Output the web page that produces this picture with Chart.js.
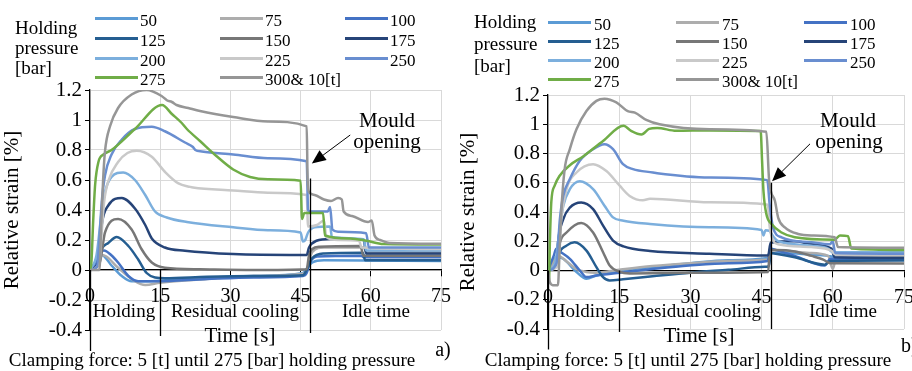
<!DOCTYPE html>
<html>
<head>
<meta charset="utf-8">
<script src="https://cdn.jsdelivr.net/npm/chart.js@4.4.0/dist/chart.umd.min.js"></script>
<style>
  html, body { margin: 0; padding: 0; background: #fff; }
  #page { position: relative; width: 912px; height: 371px; overflow: hidden; background: #fff;
    font-family: "Liberation Serif", "Times New Roman", serif; color: #000; }
  canvas { position: absolute; top: 0; }
  .t { position: absolute; white-space: nowrap; line-height: 1; }
  .c { transform: translate(-50%, -50%); }
  .l { transform: translate(0, -50%); }
  .sw { position: absolute; height: 3px; }
</style>
</head>
<body>
<div id="page">
  <canvas id="chartA" width="456" height="371" style="left:0"></canvas>
  <canvas id="chartB" width="456" height="371" style="left:456px"></canvas>
  <div id="legendA"></div>
  <div id="legendB"></div>

  <!-- legend titles -->
  <div class="t l" style="left:15px;top:27px;font-size:19px">Holding</div>
  <div class="t l" style="left:15px;top:46.5px;font-size:19px">pressure</div>
  <div class="t l" style="left:15px;top:66.5px;font-size:19px">[bar]</div>
  <div class="t l" style="left:474px;top:21px;font-size:19px">Holding</div>
  <div class="t l" style="left:474px;top:43px;font-size:19px">pressure</div>
  <div class="t l" style="left:474px;top:64.5px;font-size:19px">[bar]</div>

  <!-- panel a notes -->
  <div class="t c" style="left:387px;top:120px;font-size:21px">Mould</div>
  <div class="t c" style="left:387px;top:141px;font-size:21px">opening</div>
  <div class="t c" style="left:124px;top:310px;font-size:19px">Holding</div>
  <div class="t c" style="left:235px;top:310px;font-size:19px">Residual cooling</div>
  <div class="t c" style="left:376px;top:310px;font-size:19px">Idle time</div>
  <div class="t c" style="left:240px;top:335px;font-size:21px">Time [s]</div>
  <div class="t c" style="left:443px;top:349px;font-size:20px">a)</div>
  <div class="t c" style="left:212px;top:359px;font-size:19px">Clamping force: 5 [t] until 275 [bar] holding pressure</div>

  <!-- panel b notes -->
  <div class="t c" style="left:848px;top:120px;font-size:21px">Mould</div>
  <div class="t c" style="left:849px;top:141px;font-size:21px">opening</div>
  <div class="t c" style="left:583px;top:310px;font-size:19px">Holding</div>
  <div class="t c" style="left:697px;top:310px;font-size:19px">Residual cooling</div>
  <div class="t c" style="left:843px;top:310px;font-size:19px">Idle time</div>
  <div class="t c" style="left:699px;top:335px;font-size:21px">Time [s]</div>
  <div class="t l" style="left:901px;top:345px;font-size:20px">b)</div>
  <div class="t c" style="left:688px;top:359px;font-size:19px">Clamping force: 5 [t] until 275 [bar] holding pressure</div>
</div>

<script>
// holding pressure series (legend order)
const pressureLabels = ["50", "75", "100", "125", "150", "175", "200", "225", "250", "275", "300& 10[t]"];
const timeTicks = [0, 15, 30, 45, 60, 75];
const strainTicks = [-0.4, -0.2, 0, 0.2, 0.4, 0.6, 0.8, 1, 1.2];
const strainTickLabels = ["-0.4", "-0.2", "0", "0.2", "0.4", "0.6", "0.8", "1", "1.2"];

// panel a) - [time s, relative strain %]
const a50 = [[0,0],[1.2,0.05],[2.5,0.1],[4.6,0.03],[6.8,-0.04],[8.9,-0.075],[12,-0.075],[20,-0.06],[35,-0.04],[45.5,-0.02],[46.3,0.01],[47.5,0.05],[50,0.065],[75,0.06]];
const a75 = [[0,0],[1.5,0.04],[2.5,0.1],[3.5,0.09],[6,0.015],[9.6,-0.075],[11.8,-0.1],[15,-0.085],[25,-0.06],[35,-0.04],[45.5,-0.025],[46.3,0],[47.5,0.12],[50,0.15],[58.5,0.15],[59,0.12],[75,0.12]];
const a100 = [[0,0],[1.5,0.05],[2.2,0.12],[3,0.13],[4.5,0.1],[6,0.05],[8.2,-0.04],[10.3,-0.075],[14,-0.075],[25,-0.06],[35,-0.05],[45.5,-0.04],[46.3,-0.02],[47,0.05],[48.5,0.09],[58,0.095],[58.5,0.085],[75,0.085]];
const a125 = [[0,0],[1.5,0.03],[2.5,0.14],[3.9,0.18],[5.7,0.22],[8.2,0.16],[10.3,0.07],[12.1,-0.02],[13.9,-0.05],[16,-0.055],[25,-0.045],[35,-0.04],[45.5,-0.035],[46.3,0],[47.5,0.08],[50,0.11],[58.3,0.115],[58.8,0.065],[75,0.065]];
const a150 = [[0,0],[2.1,0.05],[3.2,0.25],[6,0.34],[8.9,0.27],[11,0.14],[13.2,0.05],[16,0.015],[23.5,0.005],[35,0],[46.3,0.005],[46.8,0.1],[47.5,0.14],[49,0.155],[57.8,0.16],[58.4,0.095],[75,0.095]];
const a175 = [[0,0],[1.8,0.05],[2.5,0.3],[3.9,0.43],[6.8,0.48],[9.6,0.41],[11.8,0.3],[13.2,0.21],[16,0.15],[20.3,0.128],[30.6,0.106],[45,0.1],[46.3,0.1],[46.8,0.15],[48.4,0.195],[51.3,0.207],[58.5,0.2],[59,0.11],[75,0.11]];
const a200 = [[0,0],[1.4,0.1],[2.5,0.39],[3.2,0.52],[4.6,0.62],[7.1,0.65],[9.6,0.6],[11.8,0.5],[13.9,0.39],[16.4,0.35],[20.7,0.32],[30.6,0.285],[38,0.265],[45,0.25],[45.5,0.19],[46,0.2],[46.6,0.25],[48,0.285],[51.3,0.29],[51.7,0.22],[58.5,0.205],[59,0.13],[75,0.13]];
const a225 = [[0,0],[2,0.05],[2.5,0.25],[3,0.45],[4,0.6],[6,0.72],[8,0.78],[10,0.795],[13.2,0.755],[16,0.655],[18.9,0.577],[21.4,0.554],[22,0.55],[30.6,0.53],[38,0.515],[46.3,0.5],[46.6,0.29],[48.5,0.3],[50,0.33],[50.5,0.22],[53,0.2],[57.5,0.195],[58,0.15],[75,0.14]];
const a250 = [[0,0],[1.5,0.02],[2,0.2],[2.5,0.45],[3.2,0.63],[4.6,0.77],[6.8,0.87],[9.6,0.94],[13.2,0.955],[16,0.925],[20.3,0.85],[22,0.82],[22.5,0.8],[23.9,0.79],[30.6,0.77],[38,0.745],[46.3,0.725],[46.6,0.4],[47,0.39],[50.8,0.39],[51.3,0.42],[51.8,0.27],[53,0.255],[59,0.245],[59.6,0.15],[75,0.15]];
const a275 = [[0,0],[0.3,0.05],[0.7,0.34],[1.1,0.57],[1.8,0.72],[2.9,0.77],[4.6,0.8],[9.6,0.94],[15.4,1.1],[17.5,1.04],[19.6,0.98],[20.7,0.94],[23.5,0.86],[27,0.76],[30.6,0.67],[34.2,0.62],[38,0.605],[45,0.595],[45.3,0.34],[45.8,0.38],[49.8,0.38],[50.2,0.23],[55.6,0.21],[59.1,0.195],[62.7,0.173],[75,0.17]];
const a300 = [[0,0],[2,0],[2.4,0.3],[2.8,0.6],[3.2,0.79],[4.3,0.96],[6,1.08],[8.9,1.17],[12.1,1.2],[15.3,1.16],[16.5,1.13],[17.5,1.12],[18.5,1.1],[21,1.08],[23.5,1.06],[30.6,1.02],[38,0.99],[46.3,0.958],[46.5,0.6],[46.8,0.52],[48,0.5],[50,0.47],[51.5,0.46],[53,0.48],[53.8,0.47],[54.2,0.39],[56,0.36],[59.4,0.32],[60.2,0.33],[60.8,0.23],[62,0.2],[64,0.18],[75,0.175]];

// panel b)
const b50 = [[0,0],[1,0.05],[1.75,0.09],[3.2,0.08],[6,-0.01],[8.1,-0.057],[10.2,-0.034],[14.4,-0.005],[22.7,0.025],[30,0.05],[38,0.07],[46.3,0.085],[46.8,0.12],[50,0.12],[55,0.11],[59,0.1],[60,0.095],[75,0.095]];
const b75 = [[0,0],[1.2,0.06],[2.2,0.1],[4,0.06],[6,0.01],[8.1,-0.01],[10,-0.015],[15,0.005],[22,0.03],[30,0.05],[38,0.065],[46.3,0.075],[46.8,0.14],[50,0.135],[55,0.12],[59,0.1],[60,0.01],[60.8,0.1],[75,0.1]];
const b100 = [[0,0],[1.2,0.1],[1.75,0.148],[2.5,0.13],[4.6,0.08],[6.7,0],[8.1,-0.045],[10.2,-0.034],[15,-0.015],[22,0.01],[29.7,0.034],[38,0.05],[46.3,0.065],[46.8,0.15],[48,0.14],[52,0.1],[58.3,0.034],[59.5,0.08],[75,0.08]];
const b125 = [[0,0],[1.8,0.05],[2.1,0.1],[3.9,0.17],[5.6,0.193],[8.1,0.136],[10.2,0.023],[11.6,-0.045],[13,-0.068],[15.8,-0.06],[22,-0.04],[30,-0.015],[38,0.005],[45.7,0.025],[46.5,0.03],[47,0.12],[48,0.115],[52,0.09],[58.3,0.04],[59.5,0.065],[75,0.068]];
const b150 = [[0,0],[1.8,0.05],[2.5,0.19],[3.9,0.26],[7,0.325],[9.5,0.26],[11.6,0.125],[13,0.034],[15.1,-0.01],[17.2,-0.02],[30,-0.015],[46.4,-0.01],[46.7,0.14],[48,0.14],[52,0.13],[55.5,0.1],[58,0.075],[59.5,0.05],[75,0.048]];
const b175 = [[0,0],[1.8,0.05],[2.1,0.19],[3.2,0.35],[4.6,0.43],[7,0.465],[9.5,0.42],[11.6,0.307],[13.7,0.205],[15.9,0.165],[21.5,0.133],[34,0.114],[45.7,0.102],[46.4,0.105],[46.9,0.19],[52,0.2],[55.5,0.18],[59.7,0.15],[60.4,0.09],[75,0.085]];
const b200 = [[0,0],[1.5,0.05],[2.5,0.3],[3.2,0.44],[4.6,0.556],[6.7,0.61],[9.5,0.556],[11.9,0.443],[13.7,0.363],[15.9,0.34],[21.5,0.318],[34,0.295],[45,0.277],[45.4,0.24],[45.8,0.275],[46.6,0.272],[47.5,0.23],[48.5,0.2],[55.5,0.17],[59,0.15],[60,0.125],[75,0.125]];
const b225 = [[0,0],[2,0.03],[2.8,0.35],[3.9,0.556],[6,0.67],[9.5,0.727],[12.3,0.68],[15.1,0.58],[17.2,0.51],[20,0.48],[21.5,0.49],[34,0.466],[46.3,0.45],[46.7,0.3],[47.5,0.2],[48.5,0.18],[55.5,0.16],[59.7,0.136],[60.5,0.11],[75,0.11]];
const b250 = [[0,0],[1.8,0.05],[2.5,0.35],[3.2,0.51],[4.6,0.625],[6.7,0.75],[9.5,0.83],[11.9,0.864],[13.7,0.83],[15.8,0.727],[17.9,0.693],[22.1,0.67],[23,0.665],[34,0.636],[46.2,0.618],[46.7,0.45],[47.4,0.295],[49.2,0.227],[55.5,0.193],[59.4,0.18],[60,0.2],[60.5,0.12],[75,0.115]];
const b275 = [[0,0],[0.2,-0.08],[0.4,0.2],[0.7,0.47],[1.4,0.58],[2.5,0.65],[4.6,0.72],[7.4,0.78],[11.6,0.886],[15.9,0.99],[17.5,0.955],[19.7,0.93],[21.3,0.968],[23,0.975],[27,0.955],[34,0.958],[44.8,0.954],[45.1,0.75],[45.4,0.54],[46,0.386],[47.1,0.318],[49.2,0.26],[52,0.227],[60.4,0.21],[61.5,0.24],[63.2,0.235],[63.9,0.15],[75,0.14]];
const b300 = [[0,0],[0.4,-0.08],[1,-0.1],[2.1,-0.1],[2.4,0.1],[2.8,0.4],[3.5,0.69],[4.6,0.83],[6,0.966],[8.1,1.09],[10.2,1.16],[11.9,1.175],[14.4,1.15],[16.8,1.09],[18.3,1.08],[20.7,1.03],[23.5,1],[34,0.966],[46,0.948],[46.6,0.61],[47.8,0.477],[48.5,0.36],[49.9,0.295],[52.7,0.25],[55.5,0.24],[60.4,0.227],[61.1,0.16],[75,0.155]];

const seriesA = [a50, a75, a100, a125, a150, a175, a200, a225, a250, a275, a300];
const seriesB = [b50, b75, b100, b125, b150, b175, b200, b225, b250, b275, b300];

const colours = ["#5b9bd5", "#adadad", "#4472c4", "#255e91", "#777777", "#264478",
                 "#7cafdd", "#c9c9c9", "#698ed0", "#70ad47", "#969696"];

const serif = "'Liberation Serif', 'Times New Roman', serif";
Chart.defaults.font.family = serif;
Chart.defaults.color = "#000";

// black phase lines, mould-opening arrow
const phasePlugin = {
  id: "phases",
  afterDatasetsDraw(chart, args, o) {
    const { ctx } = chart;
    const x = chart.scales.x, y = chart.scales.y;
    ctx.save();
    ctx.strokeStyle = "#000";
    ctx.fillStyle = "#000";
    ctx.lineWidth = 1.3;
    o.dividers.forEach(d => {
      const px = Math.round(x.getPixelForValue(d.t)) + 0.5;
      ctx.beginPath();
      ctx.moveTo(px, y.getPixelForValue(d.top));
      ctx.lineTo(px, y.getPixelForValue(d.bottom));
      ctx.stroke();
    });
    const x1 = x.getPixelForValue(o.arrow.from[0]), y1 = y.getPixelForValue(o.arrow.from[1]);
    const x2 = x.getPixelForValue(o.arrow.to[0]), y2 = y.getPixelForValue(o.arrow.to[1]);
    const ang = Math.atan2(y2 - y1, x2 - x1);
    const head = 14, w = 6;
    const bx = x2 - head * Math.cos(ang), by = y2 - head * Math.sin(ang);
    ctx.lineWidth = 1;
    ctx.beginPath();
    ctx.moveTo(x1, y1);
    ctx.lineTo(bx, by);
    ctx.stroke();
    ctx.beginPath();
    ctx.moveTo(x2, y2);
    ctx.lineTo(bx + w * Math.sin(ang), by - w * Math.cos(ang));
    ctx.lineTo(bx - w * Math.sin(ang), by + w * Math.cos(ang));
    ctx.closePath();
    ctx.fill();
    ctx.restore();
  }
};

function makeChart(id, series, opt) {
  const datasets = series.map((s, i) => ({
    label: pressureLabels[i],
    data: s.map(p => ({ x: p[0], y: p[1] })),
    borderColor: colours[i],
    backgroundColor: colours[i],
    borderWidth: 2.5,
    pointRadius: 0,
    fill: false,
    cubicInterpolationMode: "monotone"
  })).reverse(); // last series on top, like the original

  return new Chart(document.getElementById(id), {
    type: "line",
    data: { datasets },
    plugins: [phasePlugin],
    options: {
      responsive: false,
      animation: false,
      layout: { padding: { top: opt.top, bottom: opt.bottom, right: opt.right, left: 0 } },
      plugins: {
        legend: { display: false },
        tooltip: { enabled: false },
        phases: { dividers: opt.dividers, arrow: opt.arrow }
      },
      scales: {
        x: {
          type: "linear",
          min: 0,
          max: 75,
          position: { y: 0 },
          afterBuildTicks: s => { s.ticks = timeTicks.map(v => ({ value: v })); },
          afterFit: s => { s.height = 0; s.paddingLeft = 0; s.paddingRight = 0; },
          grid: { color: "#d9d9d9", tickColor: "#000", tickLength: 6, lineWidth: 1 },
          border: { color: "#000", width: 1.3 },
          ticks: { color: "#000", font: { family: serif, size: 20 }, padding: 9, maxRotation: 0, autoSkip: false }
        },
        y: {
          min: -0.4,
          max: 1.2,
          afterBuildTicks: s => { s.ticks = strainTicks.map(v => ({ value: v })); },
          afterFit: s => { s.width = opt.yWidth; },
          grid: { color: "#d9d9d9", tickColor: "#000", tickLength: 5, lineWidth: 1 },
          border: { color: "#000", width: 1.3 },
          ticks: {
            color: "#000", font: { family: serif, size: 21 }, padding: 3,
            callback: v => strainTickLabels[strainTicks.indexOf(v)]
          },
          title: { display: true, text: "Relative strain [%]", color: "#000", font: { family: serif, size: 21 }, padding: 0 }
        }
      }
    }
  });
}

function buildLegend(id, x0, y0, dx, dy, gap) {
  const box = document.getElementById(id);
  pressureLabels.forEach((lab, i) => {
    const col = i % 3, row = Math.floor(i / 3);
    const sw = document.createElement("div");
    sw.className = "sw";
    sw.style.left = (x0 + col * dx) + "px";
    sw.style.top = (y0 + row * dy - 1.5) + "px";
    sw.style.width = "43px";
    sw.style.background = colours[i];
    const t = document.createElement("div");
    t.className = "t l";
    t.style.fontSize = "17px";
    t.style.left = (x0 + col * dx + gap) + "px";
    t.style.top = (y0 + row * dy + 1.5) + "px";
    t.textContent = lab;
    box.append(sw, t);
  });
}

function drawAll() {
  makeChart("chartA", seriesA, {
    top: 90, bottom: 41, right: 15, yWidth: 90,
    dividers: [{ t: 0, top: 0, bottom: -0.54 }, { t: 15, top: 0, bottom: -0.44 }, { t: 47.1, top: 0.61, bottom: -0.42 }],
    arrow: { from: [55.6, 0.9], to: [47.4, 0.71] }
  });
  makeChart("chartB", seriesB, {
    top: 95, bottom: 42, right: 8, yWidth: 92,
    dividers: [{ t: 0, top: 0, bottom: -0.54 }, { t: 14.9, top: 0, bottom: -0.42 }, { t: 46.9, top: 0.6, bottom: -0.4 }],
    arrow: { from: [55.2, 0.866], to: [47.2, 0.61] }
  });
  buildLegend("legendA", 95, 18.5, 125, 19.8, 45);
  buildLegend("legendB", 548, 22, 128, 19.2, 46);
}

// make sure the serif face is ready before the canvases draw text
document.fonts.load("20px 'Liberation Serif'").then(drawAll, drawAll);
</script>
</body>
</html>
